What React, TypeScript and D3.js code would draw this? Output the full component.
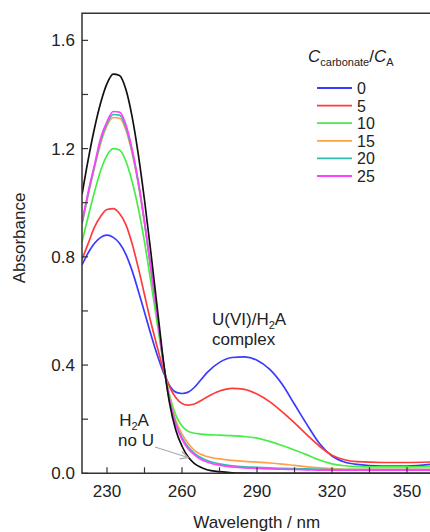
import React from 'react';
import * as d3 from 'd3';

// wavelength grid (nm)
const wavelengths = [220, 222.5, 225, 227.5, 230, 232.5, 235, 237.5, 240, 242.5, 245, 247.5, 250, 252.5, 255, 257.5, 260, 262.5, 265, 267.5, 270, 275, 280, 285, 290, 295, 300, 305, 310, 315, 320, 325, 330, 340, 350, 360];

// absorbance, one array per C_carbonate/C_A ratio
const ratio0 = [0.77, 0.815, 0.85, 0.872, 0.88, 0.872, 0.85, 0.81, 0.75, 0.675, 0.595, 0.515, 0.44, 0.375, 0.325, 0.3, 0.295, 0.3, 0.318, 0.345, 0.372, 0.41, 0.428, 0.43, 0.418, 0.385, 0.33, 0.255, 0.18, 0.11, 0.064, 0.042, 0.033, 0.027, 0.027, 0.034];
const ratio5 = [0.79, 0.85, 0.91, 0.95, 0.975, 0.978, 0.96, 0.92, 0.85, 0.76, 0.66, 0.56, 0.47, 0.385, 0.32, 0.28, 0.258, 0.252, 0.256, 0.268, 0.282, 0.304, 0.314, 0.31, 0.293, 0.265, 0.228, 0.186, 0.142, 0.1, 0.067, 0.05, 0.043, 0.04, 0.04, 0.042];
const ratio10 = [0.855, 0.95, 1.04, 1.12, 1.175, 1.2, 1.195, 1.155, 1.08, 0.98, 0.855, 0.71, 0.56, 0.41, 0.29, 0.215, 0.175, 0.155, 0.148, 0.145, 0.143, 0.141, 0.139, 0.136, 0.13, 0.118, 0.103, 0.086, 0.068, 0.049, 0.035, 0.028, 0.025, 0.024, 0.024, 0.025];
const ratio15 = [0.92, 1.03, 1.13, 1.22, 1.285, 1.315, 1.312, 1.27, 1.185, 1.07, 0.925, 0.76, 0.59, 0.415, 0.28, 0.195, 0.145, 0.11, 0.085, 0.07, 0.062, 0.053, 0.048, 0.044, 0.041, 0.038, 0.034, 0.029, 0.024, 0.02, 0.017, 0.015, 0.015, 0.015, 0.015, 0.015];
const ratio20 = [0.925, 1.035, 1.135, 1.23, 1.292, 1.326, 1.324, 1.28, 1.192, 1.075, 0.928, 0.76, 0.59, 0.412, 0.272, 0.185, 0.132, 0.097, 0.074, 0.058, 0.047, 0.035, 0.028, 0.024, 0.022, 0.02, 0.018, 0.017, 0.016, 0.015, 0.014, 0.014, 0.014, 0.014, 0.014, 0.014];
const ratio25 = [0.93, 1.04, 1.14, 1.24, 1.3, 1.337, 1.335, 1.29, 1.2, 1.08, 0.93, 0.76, 0.59, 0.41, 0.27, 0.18, 0.125, 0.09, 0.068, 0.052, 0.042, 0.03, 0.024, 0.02, 0.018, 0.016, 0.015, 0.014, 0.013, 0.012, 0.012, 0.012, 0.012, 0.012, 0.012, 0.012];
const noU = [1.03, 1.16, 1.275, 1.37, 1.44, 1.475, 1.47, 1.42, 1.32, 1.18, 1.01, 0.82, 0.62, 0.42, 0.26, 0.16, 0.1, 0.06, 0.036, 0.022, 0.013, 0.006, 0.002, 0.0005, 0, 0, 0, 0, 0, 0, 0, 0, 0, 0, 0, 0];

const ratioLabels = ['0', '5', '10', '15', '20', '25'];
const ratioSeries = [ratio0, ratio5, ratio10, ratio15, ratio20, ratio25];
const ratioColors = ['#3a3aff', '#ff3a3a', '#44ee44', '#ffa04a', '#2ebcb4', '#ff40ff'];

const xTicks = [230, 245, 260, 275, 290, 305, 320, 335, 350];
const xLabels = [230, 260, 290, 320, 350];
const yTicks = [0, 0.2, 0.4, 0.6, 0.8, 1.0, 1.2, 1.4, 1.6];
const yLabels = [0, 0.4, 0.8, 1.2, 1.6];

const W = 430;
const H = 532;
const left = 82;
const right = 432;
const top = 13.3;
const bottom = 473.3;

export default function App() {
  const x = d3.scaleLinear().domain([220, 360]).range([left, right]);
  const y = d3.scaleLinear().domain([0, 1.7]).range([bottom, top]);

  const line = d3
    .line<number>()
    .x((_, i) => x(wavelengths[i]))
    .y((d) => y(d))
    .curve(d3.curveMonotoneX);

  const font = 'Arial, "Liberation Sans", Helvetica, sans-serif';
  const axisColor = '#333';

  return (
    <svg
      width={W}
      height={H}
      style={{ position: 'absolute', left: 0, top: 0, background: '#fff' }}
      fontFamily={font}
    >
      <defs>
        <clipPath id="plot">
          <rect x={left} y={top} width={right - left} height={bottom - top} />
        </clipPath>
        <marker id="arr" viewBox="0 0 10 10" refX="9" refY="5" markerWidth="8" markerHeight="8" orient="auto">
          <path d="M1,1 L9,5 L1,9" fill="none" stroke="#aaa" strokeWidth="1.3" />
        </marker>
      </defs>

      {/* curves */}
      <g clipPath="url(#plot)" fill="none" strokeWidth={1.7}>
        {ratioSeries.map((s, i) => (
          <path key={i} d={line(s) || ''} stroke={ratioColors[i]} />
        ))}
        <path d={line(noU) || ''} stroke="#111" />
      </g>

      {/* frame */}
      <path
        d={`M${right},${top} H${left} V${bottom} H${right}`}
        fill="none"
        stroke={axisColor}
        strokeWidth={1.5}
      />

      {/* x ticks */}
      {xTicks.map((t) => (
        <line key={t} x1={x(t)} x2={x(t)} y1={bottom} y2={bottom - 6} stroke={axisColor} strokeWidth={1.2} />
      ))}
      {xLabels.map((t) => (
        <text key={t} x={x(t)} y={497} textAnchor="middle" fontSize={17} fill="#222">
          {t}
        </text>
      ))}

      {/* y ticks */}
      {yTicks.map((t) => (
        <line key={t} x1={left} x2={left + 6} y1={y(t)} y2={y(t)} stroke={axisColor} strokeWidth={1.2} />
      ))}
      {yLabels.map((t) => (
        <text key={t} x={75} y={y(t) + 6} textAnchor="end" fontSize={17} fill="#222">
          {t.toFixed(1)}
        </text>
      ))}

      {/* axis titles */}
      <text x={256.7} y={528} textAnchor="middle" fontSize={17} fill="#222">
        Wavelength / nm
      </text>
      <text transform="translate(25,238) rotate(-90)" textAnchor="middle" fontSize={17} fill="#222">
        Absorbance
      </text>

      {/* legend */}
      <text x={308} y={62} fontSize={17} fill="#222">
        <tspan fontStyle="italic">C</tspan>
        <tspan fontSize={11} dy={4}>carbonate</tspan>
        <tspan dy={-4}>/</tspan>
        <tspan fontStyle="italic">C</tspan>
        <tspan fontSize={11} dy={4}>A</tspan>
      </text>
      {ratioLabels.map((lab, i) => {
        const ly = 88 + i * 17.6;
        return (
          <g key={lab}>
            <line x1={317} x2={352} y1={ly} y2={ly} stroke={ratioColors[i]} strokeWidth={1.8} />
            <text x={357} y={ly + 6} fontSize={16} fill="#222">
              {lab}
            </text>
          </g>
        );
      })}

      {/* annotations */}
      <text x={212} y={325} fontSize={17} fill="#222">
        U(VI)/H<tspan fontSize={11} dy={4}>2</tspan>
        <tspan dy={-4}>A</tspan>
      </text>
      <text x={212} y={345} fontSize={17} fill="#222">
        complex
      </text>
      <text x={134} y={426} textAnchor="middle" fontSize={17} fill="#222">
        H<tspan fontSize={11} dy={4}>2</tspan>
        <tspan dy={-4}>A</tspan>
      </text>
      <text x={136} y={446} textAnchor="middle" fontSize={17} fill="#222">
        no U
      </text>
      <line x1={155} y1={447} x2={188} y2={457.5} stroke="#aaa" strokeWidth={1.2} markerEnd="url(#arr)" />
    </svg>
  );
}
